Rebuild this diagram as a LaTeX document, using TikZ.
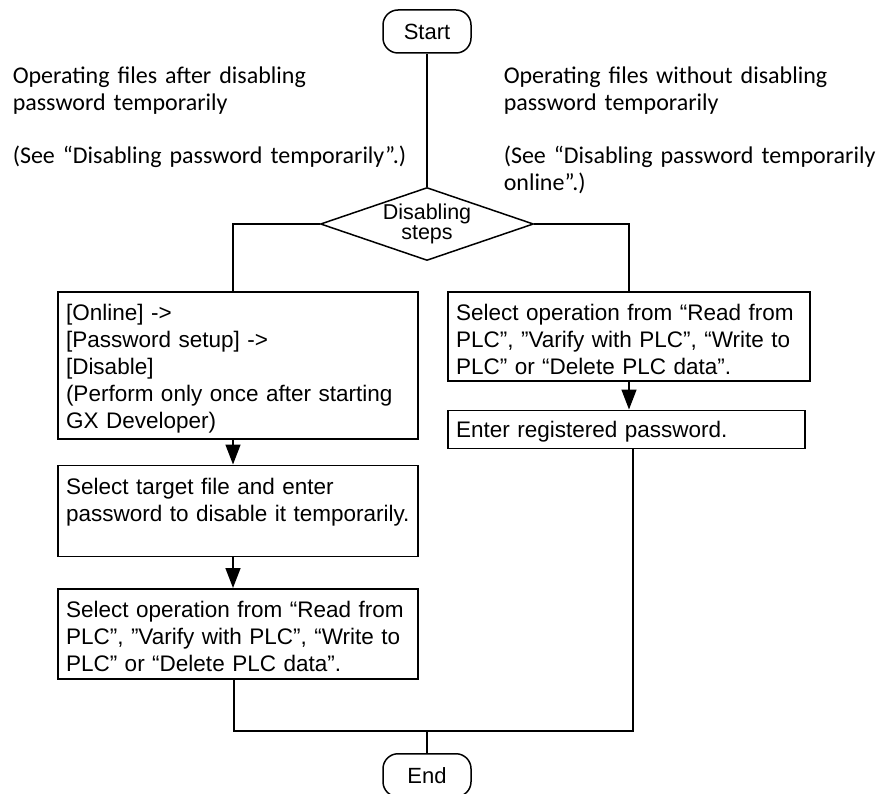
\documentclass[tikz,border=0pt]{standalone}
\usepackage{fontspec}
\setmainfont{Liberation Sans}
\newfontfamily\notefont{Carlito}
\usetikzlibrary{arrows.meta, positioning, shapes.geometric}

\begin{document}
\begin{tikzpicture}[
    x=1pt, y=1pt,
    line width=1.5pt,
    term/.style={draw, rounded corners=15pt, minimum width=88pt, minimum height=43pt, font=\fontsize{22}{26}\selectfont},
    choice/.style={draw, diamond, minimum width=213pt, minimum height=73pt, inner sep=-16pt, align=center, font=\fontsize{21.5}{20}\selectfont},
    proc/.style={draw, anchor=north, align=left, inner xsep=8pt, inner ysep=0pt, font=\fontsize{22.5}{27}\selectfont},
    note/.style={anchor=base west, align=left, inner sep=0pt, text width=430pt, font=\notefont\fontsize{24}{27}\selectfont},
    arrow/.style={-{Triangle[length=20pt, width=15pt]}}
]
    \useasboundingbox (0,0) rectangle (883,-794);

    \node[term] (start) at (427,-31.5) {Start};
    \node[note] (leftnote) at (12,-84) {Operating files after disabling\\password temporarily\\[26pt](See “Disabling password temporarily”.)};
    \node[note, text width=378pt] (rightnote) at (503,-84) {Operating files without disabling\\password temporarily\\[26pt](See “Disabling password temporarily\\online”.)};
    \node[choice, below=133pt of start] (steps) {Disabling\\steps};

    \node[proc, text width=344pt, text height=29pt, text depth=118pt] (online) at (238,-291) {[Online] ->\\{[Password setup] ->}\\{[Disable]}\\(Perform only once after starting\\GX Developer)};
    \node[proc, text width=344pt, text height=29pt, text depth=62pt, below=25pt of online] (target) {Select target file and enter\\password to disable it temporarily.};
    \node[proc, text width=344pt, text height=29pt, text depth=61pt, below=31pt of target] (selectL) {Select operation from “Read from\\PLC”, ”Varify with PLC”, “Write to\\PLC” or “Delete PLC data”.};

    \node[proc, text width=346pt, text height=29pt, text depth=60pt] (selectR) at (629,-291) {Select operation from “Read from\\PLC”, ”Varify with PLC”, “Write to\\PLC” or “Delete PLC data”.};
    \node[proc, text width=341pt, text height=27pt, text depth=11pt, below=28pt of selectR.south west, anchor=north west] (enterpw) {Enter registered password.};

    \coordinate (merge) at (427,-731);
    \node[term, below=22pt of merge] (end) {End};

    \draw (start) -- (steps);
    \draw (steps.west) -| ([xshift=-5pt]online.north);
    \draw (steps.east) -| (selectR.north);
    \draw[arrow] ([xshift=-5pt]online.south) -- ([xshift=-5pt]target.north);
    \draw[arrow] ([xshift=-5pt]target.south) -- ([xshift=-5pt]selectL.north);
    \draw[arrow] (selectR.south) -- (selectR.south |- enterpw.north);
    \draw ([xshift=-4pt]selectL.south) |- (merge) -| ([xshift=6.5pt]enterpw.south);
    \draw (merge) -- (end);
\end{tikzpicture}
\end{document}
